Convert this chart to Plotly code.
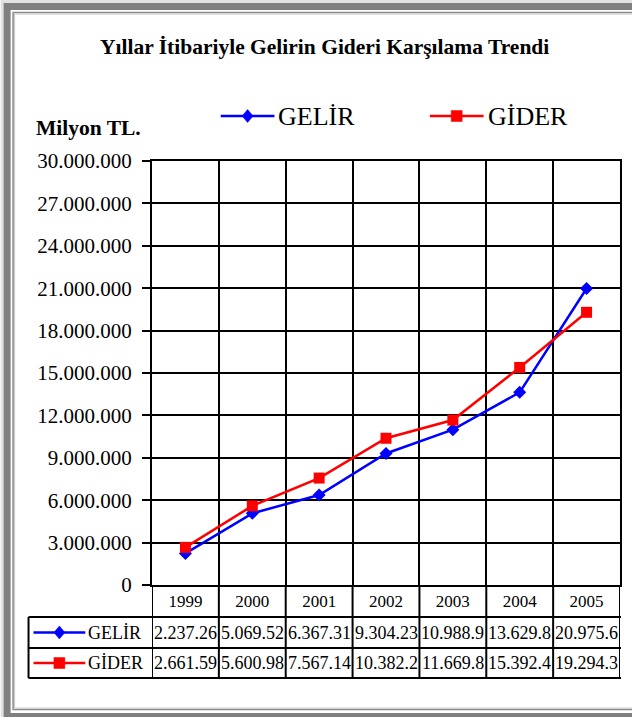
import plotly.graph_objects as go

# ---------------- data ----------------
years = ["1999", "2000", "2001", "2002", "2003", "2004", "2005"]
gelir = [2237260, 5069520, 6367310, 9304230, 10988900, 13629800, 20975600]
gider = [2661590, 5600980, 7567140, 10382200, 11669800, 15392400, 19294300]
series_names = ["GELİR", "GİDER"]
y_tick_values = [0, 3000000, 6000000, 9000000, 12000000, 15000000,
                 18000000, 21000000, 24000000, 27000000, 30000000]
title_text = "Yıllar İtibariyle Gelirin Gideri Karşılama Trendi"
unit_text = "Milyon TL."

# ---------------- layout geometry (pixels) ----------------
W, H = 632, 717
L, R, T, B = 152, 622, 161, 585
FONT = "Liberation Serif"
BLUE = "#0000FF"
RED = "#FF0000"


def px(x):
    return (x - L) / (R - L)


def py(y):
    return (B - y) / (B - T)


def cell_text(v):
    return f"{v:,}".replace(",", ".")[:8]


fig = go.Figure()
fig.add_trace(go.Scatter(
    x=years, y=gelir, mode="lines+markers", name=series_names[0],
    line=dict(color=BLUE, width=2.5),
    marker=dict(symbol="diamond", size=10, color=BLUE),
    showlegend=False,
))
fig.add_trace(go.Scatter(
    x=years, y=gider, mode="lines+markers", name=series_names[1],
    line=dict(color=RED, width=2.5),
    marker=dict(symbol="square", size=11, color=RED),
    showlegend=False,
))

shapes = []
annotations = []

# ---- page border ----
shapes.append(dict(type="rect", xref="paper", yref="paper", layer="below",
                   x0=px(0), x1=px(W + 20), y0=py(0), y1=py(H + 20),
                   fillcolor="#e2e2e2", line=dict(width=0)))
shapes.append(dict(type="rect", xref="paper", yref="paper", layer="below",
                   x0=px(3), x1=px(W + 20), y0=py(3), y1=py(H + 20),
                   fillcolor="#808080", line=dict(width=0)))
shapes.append(dict(type="rect", xref="paper", yref="paper", layer="below",
                   x0=px(10), x1=px(W + 20), y0=py(10), y1=py(713),
                   fillcolor="#ffffff", line=dict(width=0)))
shapes.append(dict(type="rect", xref="paper", yref="paper", layer="below",
                   x0=px(12.5), x1=px(W + 20), y0=py(12.5), y1=py(709.5),
                   fillcolor="rgba(0,0,0,0)", line=dict(color="#8a8a8a", width=1.5)))
shapes.append(dict(type="rect", xref="paper", yref="paper", layer="below",
                   x0=px(14), x1=px(W + 20), y0=py(14), y1=py(708),
                   fillcolor="rgba(0,0,0,0)", line=dict(color="#c8c8c8", width=1)))

# ---- data table grid ----
row_lines = [617, 648, 678]
for yl in row_lines:
    shapes.append(dict(type="line", xref="paper", yref="paper",
                       x0=px(28), x1=px(R + 1), y0=py(yl), y1=py(yl),
                       line=dict(color="black", width=2)))
shapes.append(dict(type="line", xref="paper", yref="paper",
                   x0=px(28), x1=px(28), y0=py(617), y1=py(678),
                   line=dict(color="black", width=2)))
for i in range(len(years) + 1):
    shapes.append(dict(type="line", xref="x", yref="paper",
                       x0=i - 0.5, x1=i - 0.5, y0=py(B), y1=py(678),
                       line=dict(color="black", width=2)))

row_centers = [632.5, 663]
for vals, yc in zip([gelir, gider], row_centers):
    for idx, v in enumerate(vals):
        annotations.append(dict(x=idx, xref="x", y=py(yc), yref="paper",
                                text=cell_text(v), showarrow=False,
                                xanchor="center", yanchor="middle",
                                font=dict(family=FONT, size=18, color="black")))


# ---- legend keys ----
def key(x0, x1, cy, color, symbol):
    cx = (x0 + x1) / 2
    shapes.append(dict(type="line", xref="paper", yref="paper",
                       x0=px(x0), x1=px(x1), y0=py(cy), y1=py(cy),
                       line=dict(color=color, width=2.5)))
    if symbol == "diamond":
        path = (f"M {px(cx - 5.5)},{py(cy)} L {px(cx)},{py(cy - 6.5)} "
                f"L {px(cx + 5.5)},{py(cy)} L {px(cx)},{py(cy + 6.5)} Z")
        shapes.append(dict(type="path", xref="paper", yref="paper", path=path,
                           fillcolor=color, line=dict(color=color, width=0.5)))
    else:
        shapes.append(dict(type="rect", xref="paper", yref="paper",
                           x0=px(cx - 5.5), x1=px(cx + 5.5),
                           y0=py(cy - 5.5), y1=py(cy + 5.5),
                           fillcolor=color, line=dict(color=color, width=0.5)))


# top legend
key(221, 275, 116, BLUE, "diamond")
key(431, 485, 116, RED, "square")
annotations.append(dict(x=px(277), y=py(116), xref="paper", yref="paper",
                        text=series_names[0], showarrow=False,
                        xanchor="left", yanchor="middle",
                        font=dict(family=FONT, size=26, color="black")))
annotations.append(dict(x=px(487), y=py(116), xref="paper", yref="paper",
                        text=series_names[1], showarrow=False,
                        xanchor="left", yanchor="middle",
                        font=dict(family=FONT, size=26, color="black")))

# table legend keys
key(33, 85, row_centers[0], BLUE, "diamond")
key(33, 85, row_centers[1], RED, "square")
for name, yc in zip(series_names, row_centers):
    annotations.append(dict(x=px(86), y=py(yc), xref="paper", yref="paper",
                            text=name, showarrow=False,
                            xanchor="left", yanchor="middle",
                            font=dict(family=FONT, size=18, color="black")))

# title and unit
annotations.append(dict(x=px(325), y=py(47), xref="paper", yref="paper",
                        text=f"<b>{title_text}</b>", showarrow=False,
                        xanchor="center", yanchor="middle",
                        font=dict(family=FONT, size=21.5, color="black")))
annotations.append(dict(x=px(33), y=py(128), xref="paper", yref="paper",
                        text=f"<b>{unit_text}</b>", showarrow=False,
                        xanchor="left", yanchor="middle",
                        font=dict(family=FONT, size=21.5, color="black")))

fig.update_layout(
    width=W, height=H,
    margin=dict(l=L, r=W - R, t=T, b=H - B, pad=0),
    paper_bgcolor="white",
    plot_bgcolor="rgba(0,0,0,0)",
    separators=",.",
    font=dict(family=FONT, color="black"),
    shapes=shapes,
    annotations=annotations,
    showlegend=False,
    xaxis=dict(
        type="category", categoryorder="array", categoryarray=years,
        range=[-0.5, len(years) - 0.5],
        tickson="boundaries", ticks="",
        showgrid=True, gridcolor="black", gridwidth=2,
        showline=True, mirror=True, linecolor="black", linewidth=2,
        tickfont=dict(family=FONT, size=17, color="black"),
        ticklabelstandoff=0,
        zeroline=False, fixedrange=True,
    ),
    yaxis=dict(
        range=[0, 30000000],
        tickmode="array", tickvals=y_tick_values, tickformat=",d",
        ticks="outside", ticklen=8, tickwidth=2, tickcolor="black",
        showgrid=True, gridcolor="black", gridwidth=2,
        showline=True, mirror=True, linecolor="black", linewidth=2,
        tickfont=dict(family=FONT, size=21, color="black"),
        ticklabelstandoff=6,
        zeroline=False, fixedrange=True,
    ),
)

fig.write_html("out.html", config={"displayModeBar": False},
               post_script="document.body.style.margin='0';document.body.style.padding='0';")
